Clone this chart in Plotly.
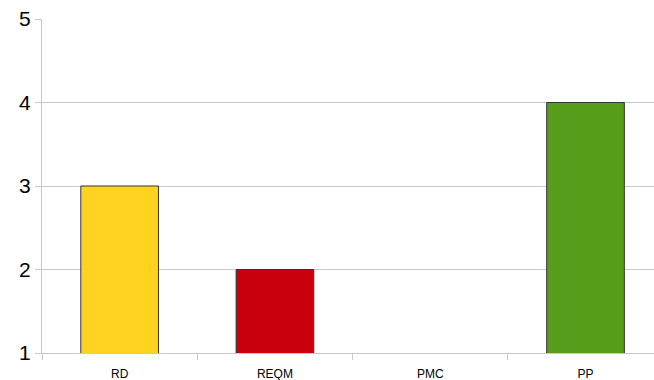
import plotly.graph_objects as go

categories = ["RD", "REQM", "PMC", "PP"]
values = [3, 2, 1, 4]
colors = ["#FFD320", "#C9000B", "#FFFFFF", "#579D1C"]
line_widths = [1, 1, 0, 1]
y_ticks = [1, 2, 3, 4, 5]

fig = go.Figure()
fig.add_trace(go.Bar(
    x=categories, y=values,
    marker=dict(color=colors, line=dict(color="#333333", width=line_widths)),
    width=0.5,
))

fig.update_layout(
    width=654, height=380,
    margin=dict(l=42, r=0, t=19, b=27),
    paper_bgcolor="white", plot_bgcolor="white",
    showlegend=False,
    font=dict(family="Liberation Sans, Arial, sans-serif", color="black"),
)
fig.update_xaxes(
    type="category",
    range=[-0.5, 3.441],
    tickson="boundaries",
    ticks="outside", ticklen=6, tickcolor="#c8c8c8",
    showline=True, linecolor="#c8c8c8", linewidth=1,
    showgrid=False,
    tickfont=dict(size=12, color="black"),
    ticklabelstandoff=10,
)
fig.update_yaxes(
    range=[1, 5],
    tickvals=y_ticks,
    ticks="outside", ticklen=6, tickcolor="#c8c8c8",
    showline=True, linecolor="#c8c8c8", linewidth=1,
    showgrid=True, gridcolor="#c8c8c8", gridwidth=1,
    zeroline=False,
    tickfont=dict(size=21, color="black"),
)

fig.write_html("out.html")
